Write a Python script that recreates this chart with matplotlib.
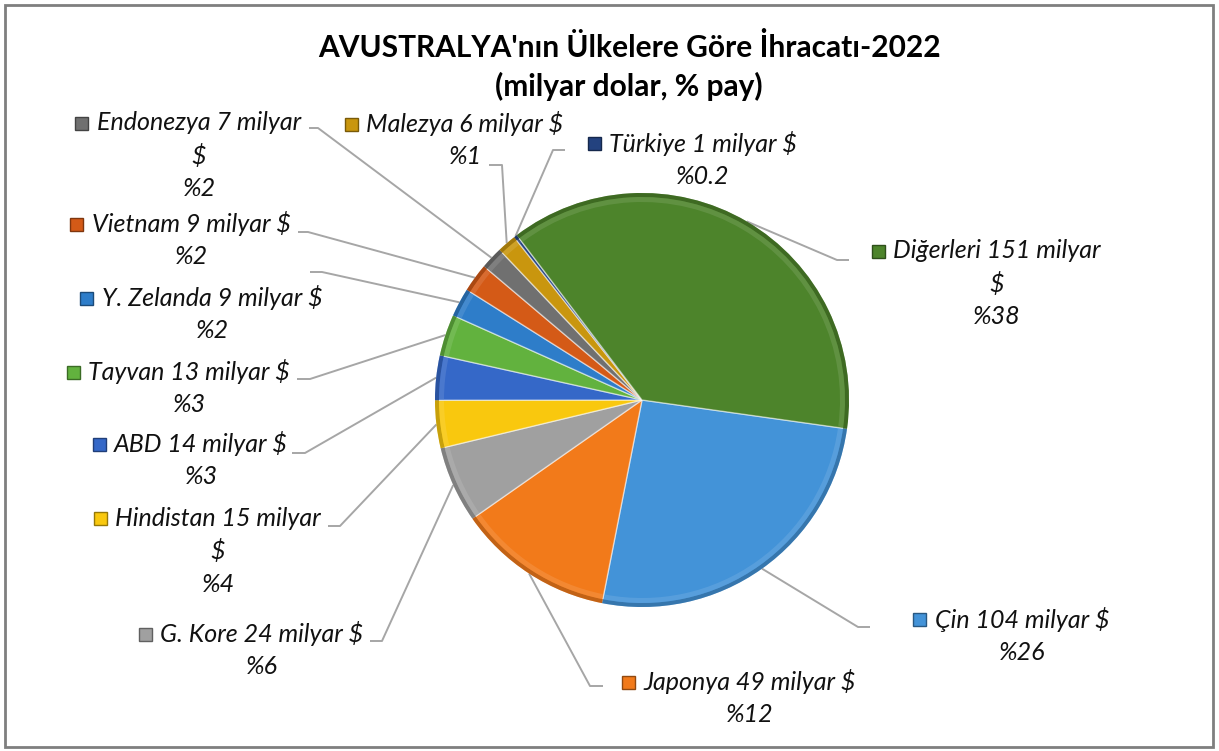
import numpy as np
import matplotlib
matplotlib.use('Agg')
import matplotlib.pyplot as plt
from matplotlib.patches import Wedge, Rectangle
from matplotlib.colors import to_rgb

# data
countries = ['Çin', 'Japonya', 'G. Kore', 'Hindistan', 'ABD', 'Tayvan',
             'Y. Zelanda', 'Vietnam', 'Endonezya', 'Malezya', 'Türkiye', 'Diğerleri']
values = [104, 49, 24, 15, 14, 13, 9, 9, 7, 6, 1, 151]
shares = ['26', '12', '6', '4', '3', '3', '2', '2', '2', '1', '0.2', '38']
colors = ['#4393D8', '#F27A1A', '#A0A0A0', '#F9C80E', '#3568C8', '#62B23E',
          '#2E7DC9', '#D45A17', '#707070', '#C9960E', '#23427F', '#4D842B']
title = "AVUSTRALYA'nın Ülkelere Göre İhracatı-2022\n(milyar dolar, % pay)"

W, H = 1219, 751
def Y(y):
    return H - y

# label layout, pixel coords from top: text center x, first line y
lab_pos = [(1022, 619), (750, 682), (262, 634), (218, 518), (201, 444), (189, 372),
           (212, 298), (191, 224), (199, 123), (465, 124), (703, 143), (997, 251)]
# leader elbow and end point
elbows = [((858, 627), (870, 627)), ((590, 686), (603, 686)), ((382, 641), (370, 641)),
          ((340, 526), (328, 526)), ((305, 453), (292, 453)), ((310, 379), (297, 379)),
          ((322, 272), (310, 272)), ((308, 232), (298, 232)), ((318, 128), (309, 128)),
          ((502, 165), (489, 165)), ((553, 150), (565, 150)), ((837, 260), (849, 260))]
wrapped = {'Hindistan', 'Endonezya', 'Diğerleri'}

plt.rcParams['font.family'] = ['Lato', 'DejaVu Sans']

fig = plt.figure(figsize=(W / 100, H / 100), dpi=100)
ax = fig.add_axes([0, 0, 1, 1])

cx, cy, R = 642, Y(400), 207
wedges, _ = ax.pie(values, colors=colors, startangle=-8, counterclock=False,
                   center=(cx, cy), radius=R,
                   wedgeprops=dict(edgecolor=(1, 1, 1, 0.5), linewidth=1.0))
ax.set_xlim(0, W)
ax.set_ylim(0, H)
ax.set_aspect('equal')
ax.axis('off')

def shade(c, f):
    r, g, b = to_rgb(c)
    return (r * f, g * f, b * f)

def light(c, f):
    r, g, b = to_rgb(c)
    return (r + (1 - r) * f, g + (1 - g) * f, b + (1 - b) * f)

# bevel-ish rim
for w, c in zip(wedges, colors):
    t1, t2 = w.theta1, w.theta2
    ax.add_patch(Wedge((cx, cy), R, t1, t2, width=4, facecolor=shade(c, 0.8),
                       edgecolor='none', zorder=3))
    ax.add_patch(Wedge((cx, cy), R - 4, t1 + 0.3, t2 - 0.3, width=5, facecolor=light(c, 0.18),
                       edgecolor='none', zorder=3, alpha=0.6))

renderer = fig.canvas.get_renderer()
for w, name, val, sh, c, (lx, ly), (el, en) in zip(wedges, countries, values, shares,
                                                   colors, lab_pos, elbows):
    mid = np.deg2rad((w.theta1 + w.theta2) / 2)
    sx, sy = cx + R * np.cos(mid), cy + R * np.sin(mid)
    ax.plot([sx, el[0], en[0]], [sy, Y(el[1]), Y(en[1])], color='#A6A6A6', lw=1.4,
            zorder=2, solid_capstyle='butt')
    if name in wrapped:
        lines = [f'{name} {val} milyar', '$', f'%{sh}']
    else:
        lines = [f'{name} {val} milyar $', f'%{sh}']
    for i, s in enumerate(lines):
        t = ax.text(lx, Y(ly + 33 * i), s, ha='center', va='center', fontsize=18,
                    style='italic', color='#111111', zorder=5)
        if i == 0:
            bb = t.get_window_extent(renderer=renderer)
            mx = bb.x0 - 15
            ax.add_patch(Rectangle((mx - 6.5, Y(ly) - 6.5), 13, 13, facecolor=c,
                                   edgecolor=shade(c, 0.6), lw=1, zorder=5))

ax.text(629, Y(67), title, ha='center', va='center', fontsize=21.5, fontweight='bold',
        linespacing=1.38, color='black')

ax.add_patch(Rectangle((5, 4), W - 11, H - 9, facecolor='none', edgecolor='#7F7F7F',
                       lw=2, zorder=10))

fig.savefig('out.png', dpi=100)
